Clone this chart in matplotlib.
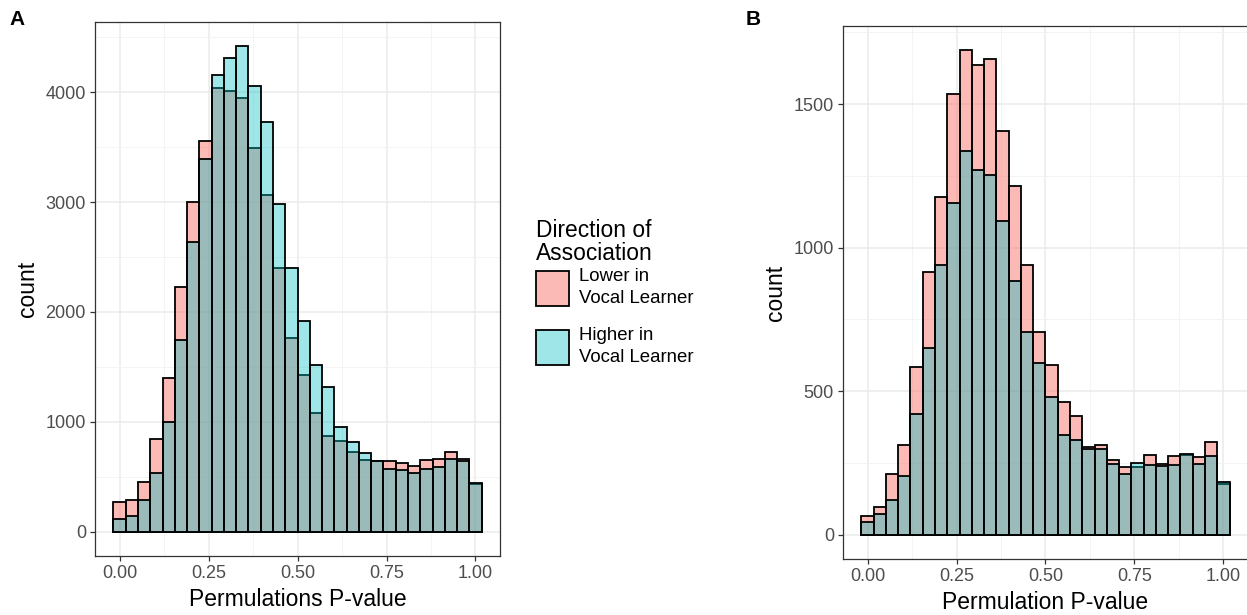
import numpy as np
import matplotlib
matplotlib.use("Agg")
import matplotlib.pyplot as plt
from matplotlib.patches import Patch
from matplotlib.ticker import MultipleLocator

plt.rcParams['font.family'] = ['Liberation Sans', 'DejaVu Sans']

# 30 bins, centred on 0, 1/29, ..., 1 (ggplot default)
n_bins = 30
centres = np.arange(n_bins) / (n_bins - 1)
binwidth = 1 / (n_bins - 1)

# Panel A: permulations p-value counts
a_lower = [270, 291, 452, 842, 1397, 2230, 2997, 3555, 4042, 4009, 3945, 3491, 3061, 2403, 1761,
           1427, 1085, 867, 830, 730, 655, 645, 645, 624, 594, 655, 664, 730, 664, 432]
a_higher = [118, 139, 291, 539, 1003, 1745, 2636, 3394, 4161, 4309, 4418, 4061, 3730, 2982, 2403,
            1921, 1518, 1315, 952, 821, 715, 640, 570, 565, 533, 570, 585, 664, 645, 442]

# Panel B: permulation p-value counts
b_lower = [65, 98, 212, 311, 585, 914, 1177, 1534, 1688, 1637, 1656, 1405, 1215, 939, 706,
           591, 463, 415, 305, 311, 262, 236, 236, 277, 245, 274, 278, 271, 324, 178]
b_higher = [44, 72, 120, 203, 421, 652, 941, 1157, 1336, 1270, 1252, 1093, 885, 706, 597,
            481, 347, 329, 300, 298, 248, 212, 250, 242, 238, 244, 283, 248, 274, 184]

x_ticks = [0.0, 0.25, 0.5, 0.75, 1.0]
x_ticklabels = ['0.00', '0.25', '0.50', '0.75', '1.00']
legend_title = 'Direction of\nAssociation'
legend_labels = ['Lower in\nVocal Learner', 'Higher in\nVocal Learner']

red = (248/255, 118/255, 109/255)
cyan = (0/255, 191/255, 196/255)
red_fill = red + (0.5,)
cyan_fill = cyan + (0.38,)

fig = plt.figure(figsize=(12.47, 6.15), dpi=100)
ax_a = fig.add_axes([0.0762, 0.0959, 0.3248, 0.8683])
ax_b = fig.add_axes([0.6760, 0.0911, 0.3248, 0.8667])


def draw_panel(ax, lower, higher, ystep, xlabel):
    ax.bar(centres, lower, width=binwidth, facecolor=red_fill, edgecolor='black', linewidth=1.3, zorder=2)
    ax.bar(centres, higher, width=binwidth, facecolor=cyan_fill, edgecolor='black', linewidth=1.3, zorder=3)
    lo = centres[0] - binwidth / 2
    hi = centres[-1] + binwidth / 2
    xpad = 0.05 * (hi - lo)
    ax.set_xlim(lo - xpad, hi + xpad)
    ymax = max(max(lower), max(higher))
    ax.set_ylim(-0.05 * ymax, 1.05 * ymax)
    ax.set_xticks(x_ticks)
    ax.set_xticklabels(x_ticklabels)
    ax.xaxis.set_minor_locator(MultipleLocator(0.125))
    ax.yaxis.set_major_locator(MultipleLocator(ystep))
    ax.yaxis.set_minor_locator(MultipleLocator(ystep / 2))
    ax.grid(which='major', color='#EBEBEB', linewidth=1.1, zorder=0)
    ax.grid(which='minor', color='#F2F2F2', linewidth=0.6, zorder=0)
    ax.set_axisbelow(True)
    ax.tick_params(which='major', length=3.5, width=0.9, color='#333333', labelcolor='#4D4D4D',
                   labelsize=13, pad=3)
    ax.tick_params(which='minor', length=0)
    for s in ax.spines.values():
        s.set_color('#333333')
        s.set_linewidth(0.9)
    ax.set_xlabel(xlabel, fontsize=16.5, labelpad=4)
    ax.set_ylabel('count', fontsize=16.5, labelpad=5)


draw_panel(ax_a, a_lower, a_higher, 1000, 'Permulations P-value')
draw_panel(ax_b, b_lower, b_higher, 500, 'Permulation P-value')

fig.text(0.0075, 0.983, 'A', fontsize=15, fontweight='bold', va='top', ha='left')
fig.text(0.598, 0.983, 'B', fontsize=15, fontweight='bold', va='top', ha='left')

# legend title drawn separately so it sits close to the keys, as in ggplot
fig.text(0.4298, 0.6435, legend_title, fontsize=16.4, ha='left', va='top', linespacing=1.0)

handles = [Patch(facecolor=red_fill, edgecolor='black', linewidth=1.3),
           Patch(facecolor=cyan_fill, edgecolor='black', linewidth=1.3)]
leg = fig.legend(handles, legend_labels, loc='upper left',
                 bbox_to_anchor=(0.4298, 0.5642), frameon=False, fontsize=13.4,
                 handlelength=1.8, handleheight=2.5, handletextpad=0.5,
                 labelspacing=1.07, borderpad=0, borderaxespad=0)
for t in leg.get_texts():
    t.set_linespacing(1.4)

fig.savefig('out.png', dpi=100)
